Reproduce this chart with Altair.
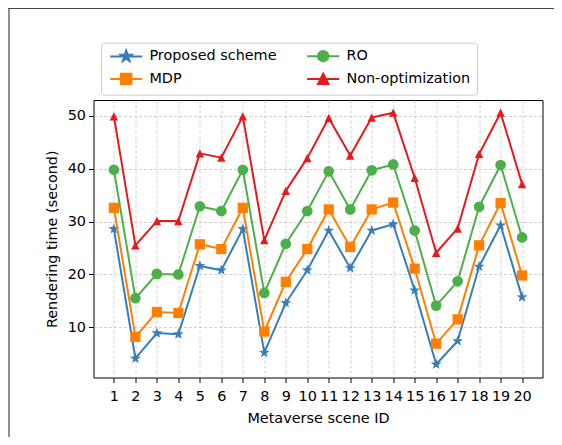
import math
import altair as alt
import pandas as pd

scene_ids = list(range(1, 21))
series_names = ["Proposed scheme", "MDP", "RO", "Non-optimization"]
proposed = [28.6, 4.1, 8.9, 8.7, 21.6, 20.8, 28.6, 5.2, 14.6, 20.8, 28.3, 21.2, 28.3, 29.5, 17.0, 3.0, 7.4, 21.5, 29.3, 15.7]
mdp = [32.6, 8.2, 12.9, 12.7, 25.7, 24.8, 32.6, 9.2, 18.6, 24.8, 32.3, 25.2, 32.3, 33.6, 21.1, 6.9, 11.5, 25.5, 33.5, 19.8]
ro = [39.8, 15.5, 20.1, 20.0, 32.9, 32.0, 39.8, 16.5, 25.8, 32.0, 39.5, 32.3, 39.7, 40.8, 28.3, 14.1, 18.7, 32.8, 40.7, 27.0]
non_opt = [49.9, 25.5, 30.1, 30.1, 42.9, 42.1, 49.9, 26.5, 35.8, 42.0, 49.6, 42.5, 49.7, 50.6, 38.3, 24.1, 28.7, 42.8, 50.6, 37.1]
y_ticks = [10, 20, 30, 40, 50]

colors = {"Proposed scheme": "#377eb8", "MDP": "#ff7f00", "RO": "#4daf4a", "Non-optimization": "#e41a1c"}

rows = []
for name, vals in zip(series_names, [proposed, mdp, ro, non_opt]):
    for sid, v in zip(scene_ids, vals):
        rows.append({"scene": sid, "value": v, "series": name})
df = pd.DataFrame(rows)


def star_path(scale=1.0, inner=0.4):
    pts = []
    for k in range(10):
        r = scale if k % 2 == 0 else scale * inner
        a = math.radians(-90 + 36 * k)
        pts.append((r * math.cos(a), r * math.sin(a)))
    return "M" + "L".join(f"{x:.3f},{y:.3f}" for x, y in pts) + "Z"


STAR = star_path(1.0)
TRI = "M0,-1L1,1L-1,1Z"
shapes = {"Proposed scheme": (STAR, 130), "MDP": ("square", 105), "RO": ("circle", 115), "Non-optimization": (TRI, 70)}

m = 1.3
leg_paths = {
    "Proposed scheme": "M-4,0L4,0" + star_path(1.45),
    "MDP": f"M-4,0L4,0M-{m:.2f},-{m:.2f}H{m:.2f}V{m:.2f}H-{m:.2f}Z",
    "RO": f"M-4,0L4,0M{m},0A{m},{m},0,1,1,-{m},0A{m},{m},0,1,1,{m},0Z",
    "Non-optimization": f"M-4,0L4,0M0,-{m}L{m},{m}L-{m},{m}Z",
}

# Vega fills legend columns top-to-bottom
legend_order = ["Proposed scheme", "MDP", "RO", "Non-optimization"]

FS = 14.4

X = alt.X(
    "scene:Q",
    scale=alt.Scale(domain=[0.05, 20.95], nice=False, zero=False),
    axis=alt.Axis(values=scene_ids, title="Metaverse scene ID", labelPadding=6.5, titlePadding=9, format="d"),
)
Y = alt.Y(
    "value:Q",
    scale=alt.Scale(domain=[0.5, 53.0], nice=False, zero=False),
    axis=alt.Axis(values=y_ticks, title="Rendering time (second)", labelPadding=3, titlePadding=8),
)

base = alt.Chart(df)
layers = []
for name in series_names:
    sub = base.transform_filter(alt.datum.series == name)
    layers.append(sub.mark_line(color=colors[name], strokeWidth=2, strokeJoin="round").encode(x=X, y=Y))
    shp, sz = shapes[name]
    layers.append(
        sub.mark_point(filled=True, color=colors[name], shape=shp, size=sz, opacity=1).encode(x=X, y=Y)
    )

leg_scale_c = alt.Scale(domain=legend_order, range=[colors[n] for n in legend_order])
legend_layer = base.transform_filter("datum.scene < 0").mark_point(filled=True, opacity=1).encode(
    color=alt.Color("series:N", scale=leg_scale_c, legend=alt.Legend(title=None)),
    stroke=alt.Stroke("series:N", scale=leg_scale_c, legend=alt.Legend(title=None)),
    shape=alt.Shape(
        "series:N",
        scale=alt.Scale(domain=legend_order, range=[leg_paths[n] for n in legend_order]),
        legend=alt.Legend(title=None),
    ),
)

frame_df = pd.DataFrame({"k": [0]})
frame_top = alt.Chart(frame_df).mark_rule(color="#444444", strokeWidth=1).encode(
    x=alt.value(-85), x2=alt.value(470), y=alt.value(-91.5)
)
frame_left = alt.Chart(frame_df).mark_rule(color="#222222", strokeWidth=1).encode(
    x=alt.value(-84.5), y=alt.value(-92), y2=alt.value(350)
)

chart = (
    alt.layer(*layers, legend_layer, frame_top, frame_left)
    .properties(
        width=449,
        height=277.5,
        padding={"left": 85.5, "top": 92, "right": 11.5, "bottom": 59.5},
        autosize=alt.AutoSizeParams(type="none"),
        background="white",
    )
    .configure_view(stroke="black", strokeWidth=1)
    .configure_axis(
        labelFont="DejaVu Sans",
        titleFont="DejaVu Sans",
        labelFontSize=FS,
        titleFontSize=FS,
        labelColor="black",
        titleColor="black",
        titleFontWeight="normal",
        tickColor="black",
        tickSize=5,
        tickWidth=1,
        domain=False,
        gridColor="#c4c4c4",
        gridDash=[3, 2],
        gridWidth=0.8,
    )
    .configure_legend(
        orient="none",
        legendX=7.5,
        legendY=-57.3,
        columns=2,
        direction="vertical",
        strokeColor="#cccccc",
        fillColor="white",
        cornerRadius=3,
        padding=6,
        labelFont="DejaVu Sans",
        labelFontSize=FS,
        labelColor="black",
        symbolSize=64,
        symbolStrokeWidth=2,
        symbolOffset=12,
        labelOffset=16,
        rowPadding=4,
        columnPadding=26,
    )
)

chart.save("out.html", embed_options={"renderer": "svg", "actions": False})
